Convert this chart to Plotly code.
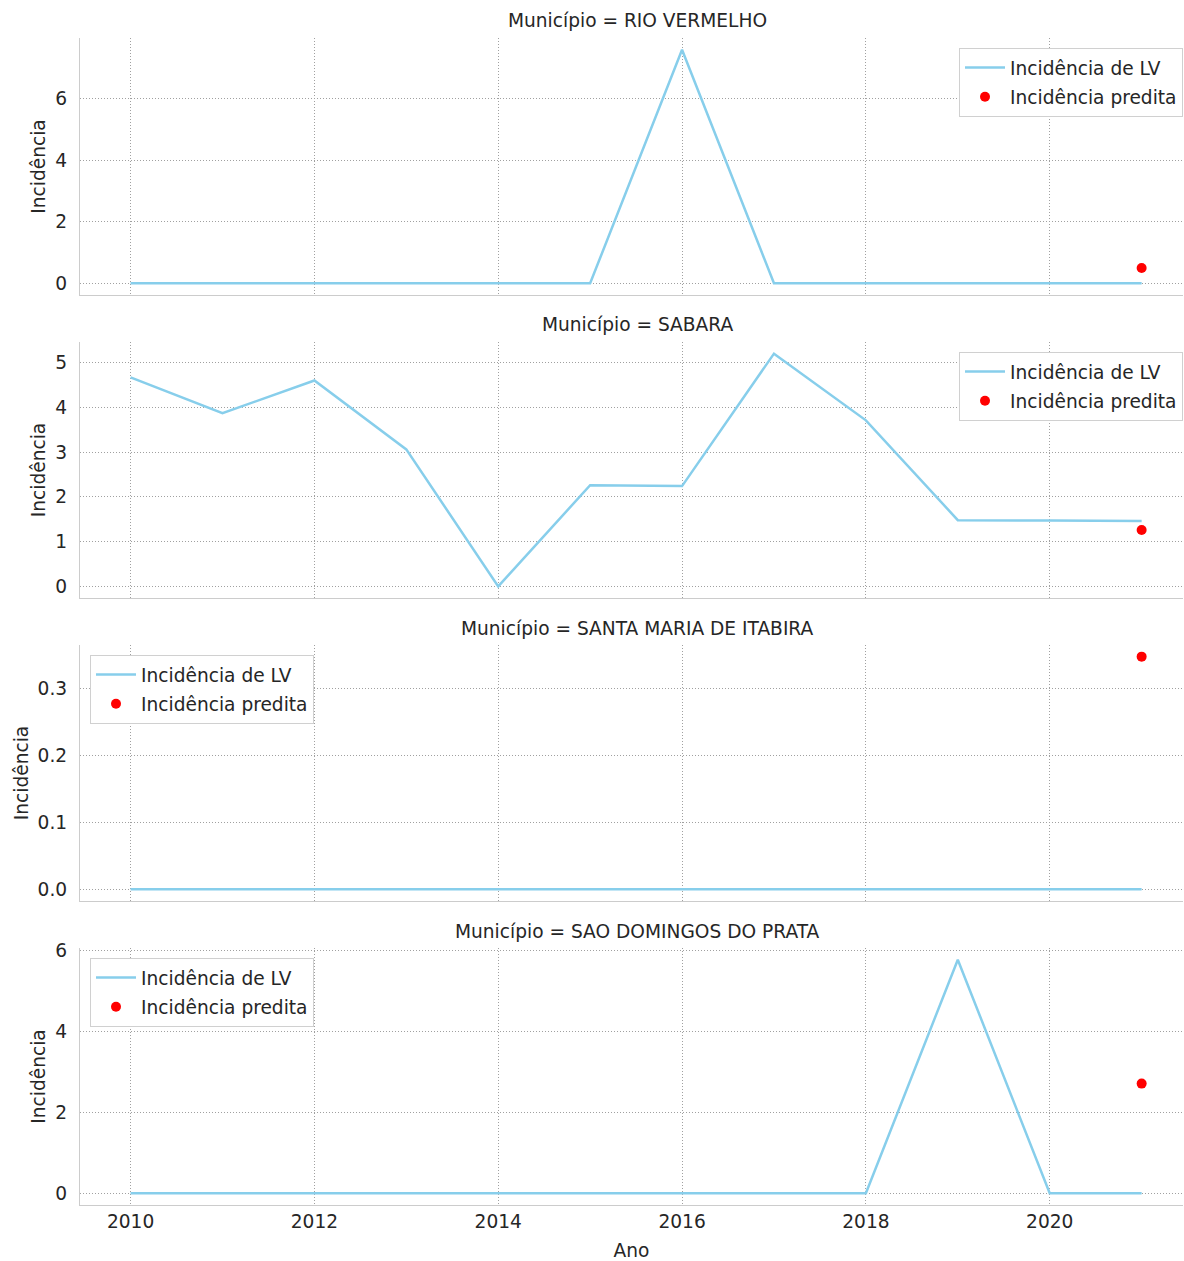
import plotly.graph_objects as go

# ---- data ----
anos = [2010, 2011, 2012, 2013, 2014, 2015, 2016, 2017, 2018, 2019, 2020, 2021]
municipios = ["RIO VERMELHO", "SABARA", "SANTA MARIA DE ITABIRA", "SAO DOMINGOS DO PRATA"]
inc_rio_vermelho = [0, 0, 0, 0, 0, 0, 7.6, 0, 0, 0, 0, 0]
inc_sabara = [4.67, 3.87, 4.60, 3.06, 0.0, 2.26, 2.24, 5.20, 3.71, 1.48, 1.47, 1.46]
inc_santa_maria = [0, 0, 0, 0, 0, 0, 0, 0, 0, 0, 0, 0]
inc_sao_domingos = [0, 0, 0, 0, 0, 0, 0, 0, 0, 5.77, 0, 0]
ano_predito = 2021
pred_rio_vermelho = 0.5
pred_sabara = 1.26
pred_santa_maria = 0.348
pred_sao_domingos = 2.71

series = [inc_rio_vermelho, inc_sabara, inc_santa_maria, inc_sao_domingos]
preds = [pred_rio_vermelho, pred_sabara, pred_santa_maria, pred_sao_domingos]
ydticks = [2, 1, 0.1, 2]
ytickfmt = ["d", "d", ".1f", "d"]

W, H = 1184, 1261
FONT = "DejaVu Sans"
FS = 18.6
TXT = "#262626"
GRID = "#a0a0a0"
SPINE = "#cccccc"

# plot area in pixels
ML, MR, MT, MB = 80, 1, 38, 56
PW = W - ML - MR
PH = H - MT - MB
def px_x(px):
    return (px - ML) / PW
def px_y(py):
    return (H - MB - py) / PH

# panel pixel extents (top, bottom)
panels_px = [(38, 295), (342, 598), (645, 901), (948, 1205)]
legend_pos = [("right", 1183, 48), ("right", 1183, 352), ("left", 90, 655), ("left", 90, 958)]

fig = go.Figure()
layout = dict(
    width=W, height=H,
    margin=dict(l=ML, r=MR, t=MT, b=MB, autoexpand=False),
    paper_bgcolor="white", plot_bgcolor="white",
    font=dict(family=FONT, color=TXT, size=FS),
    annotations=[],
)

for i, (name, ys, p) in enumerate(zip(municipios, series, preds)):
    n = i + 1
    xa = "x" if n == 1 else f"x{n}"
    ya = "y" if n == 1 else f"y{n}"
    lg = "legend" if n == 1 else f"legend{n}"
    fig.add_trace(go.Scatter(
        x=anos, y=ys, mode="lines", name="Incidência de LV",
        line=dict(color="skyblue", width=2.5),
        xaxis=xa, yaxis=ya, legend=lg, legendgroup=f"lv{n}",
    ))
    fig.add_trace(go.Scatter(
        x=[ano_predito], y=[p], mode="markers", name="Incidência predita",
        marker=dict(color="red", size=10),
        xaxis=xa, yaxis=ya, legend=lg, legendgroup=f"pred{n}",
    ))
    top, bot = panels_px[i]
    lo = min(min(ys), p)
    hi = max(max(ys), p)
    pad = 0.05 * (hi - lo)
    xkey = "xaxis" if n == 1 else f"xaxis{n}"
    ykey = "yaxis" if n == 1 else f"yaxis{n}"
    layout[xkey] = dict(
        domain=[0, 1],
        anchor=ya,
        range=[2009.45, 2021.45],
        tick0=2010, dtick=2,
        showticklabels=(n == 4),
        tickfont=dict(size=FS, color=TXT),
        showgrid=True, gridcolor=GRID, griddash="1px,2px", gridwidth=1,
        zeroline=False,
        showline=True, linecolor=SPINE, linewidth=1.3,
        ticks="", automargin=False,
        matches=None if n == 1 else "x",
        title=dict(text="Ano", font=dict(size=FS, color=TXT), standoff=12) if n == 4 else None,
    )
    layout[ykey] = dict(
        domain=[px_y(bot), px_y(top)],
        anchor=xa,
        range=[lo - pad, hi + pad],
        dtick=ydticks[i], tick0=0,
        tickformat=ytickfmt[i],
        tickfont=dict(size=FS, color=TXT),
        showgrid=True, gridcolor=GRID, griddash="1px,2px", gridwidth=1,
        zeroline=False,
        showline=True, linecolor=SPINE, linewidth=1.3,
        ticks="", ticklen=0, ticklabelstandoff=8, automargin=False,
        title=dict(text="Incidência", font=dict(size=FS, color=TXT), standoff=4),
    )
    side, xp, yp = legend_pos[i]
    layout[lg] = dict(
        x=px_x(xp), xanchor=side, y=px_y(yp), yanchor="top",
        bgcolor="white", bordercolor="#d0d0d0", borderwidth=1,
        font=dict(size=FS, color=TXT),
        itemwidth=40, traceorder="grouped", tracegroupgap=2,
    )
    layout["annotations"].append(dict(
        text=f"Município = {name}", xref="paper", yref="paper",
        x=px_x(637), y=px_y(top - 17), xanchor="center", yanchor="middle",
        showarrow=False, font=dict(size=FS, color=TXT),
    ))

fig.update_layout(**layout)
post = ("var gd=document.getElementById('{plot_id}');"
        "gd.style.position='absolute';gd.style.left='0px';gd.style.top='0px';"
        "document.body.style.margin='0';document.body.style.overflow='hidden';")
fig.write_html("out.html", post_script=post, config={"displayModeBar": False})
